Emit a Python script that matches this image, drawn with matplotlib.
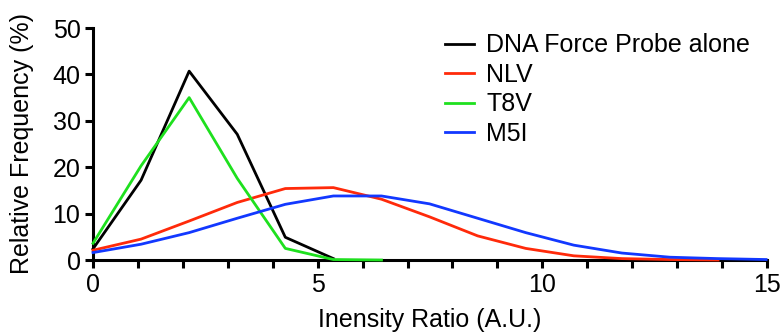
import matplotlib.pyplot as plt
from matplotlib.ticker import MultipleLocator

plt.rcParams['font.family'] = ['Liberation Sans', 'DejaVu Sans']

# bin centres (A.U.)
bins = [0, 1.07, 2.14, 3.21, 4.28, 5.35, 6.42, 7.49, 8.56, 9.63,
        10.7, 11.77, 12.84, 13.91, 14.98]

probe_alone = [2.4, 17.2, 40.7, 27.1, 4.9, 0.3]
nlv = [2.1, 4.5, 8.4, 12.4, 15.4, 15.6, 13.1, 9.3, 5.2, 2.5, 0.9, 0.3, 0.1, 0.0]
t8v = [3.6, 20.3, 35.0, 17.6, 2.5, 0.1, 0.0]
m5i = [1.6, 3.4, 5.9, 9.0, 12.0, 13.8, 13.8, 12.1, 9.0, 5.9, 3.2, 1.5, 0.6, 0.3, 0.1]

labels = ['DNA Force Probe alone', 'NLV', 'T8V', 'M5I']
colors = ['black', '#ff2a0a', '#1ee01e', '#1238ff']

fig = plt.figure(figsize=(7.81, 3.33), dpi=100)
ax = fig.add_axes([93 / 781, 1 - 260 / 333, 674 / 781, 232 / 333])

series = [probe_alone, nlv, t8v, m5i]
for vals, lab, col in zip(series, labels, colors):
    ax.plot(bins[:len(vals)], vals, color=col, lw=2, label=lab,
            clip_on=False, zorder=3)

ax.set_xlim(0, 15)
ax.set_ylim(0, 50)
ax.xaxis.set_major_locator(MultipleLocator(5))
ax.xaxis.set_minor_locator(MultipleLocator(1))
ax.yaxis.set_major_locator(MultipleLocator(10))

for s in ['top', 'right']:
    ax.spines[s].set_visible(False)
for s in ['left', 'bottom']:
    ax.spines[s].set_linewidth(2.2)

ax.tick_params(which='both', direction='out', width=2.2, length=6,
               labelsize=18, pad=3)

ax.set_xlabel('Inensity Ratio (A.U.)', fontsize=18, labelpad=8)
ax.set_ylabel('Relative Frequency (%)', fontsize=18, labelpad=13)

ax.legend(loc='upper left', bbox_to_anchor=(342 / 674, 1.02), frameon=False,
          fontsize=18, handlelength=1.15, handletextpad=0.5, labelspacing=0.22,
          borderaxespad=0)

fig.savefig('out.png', dpi=100)
